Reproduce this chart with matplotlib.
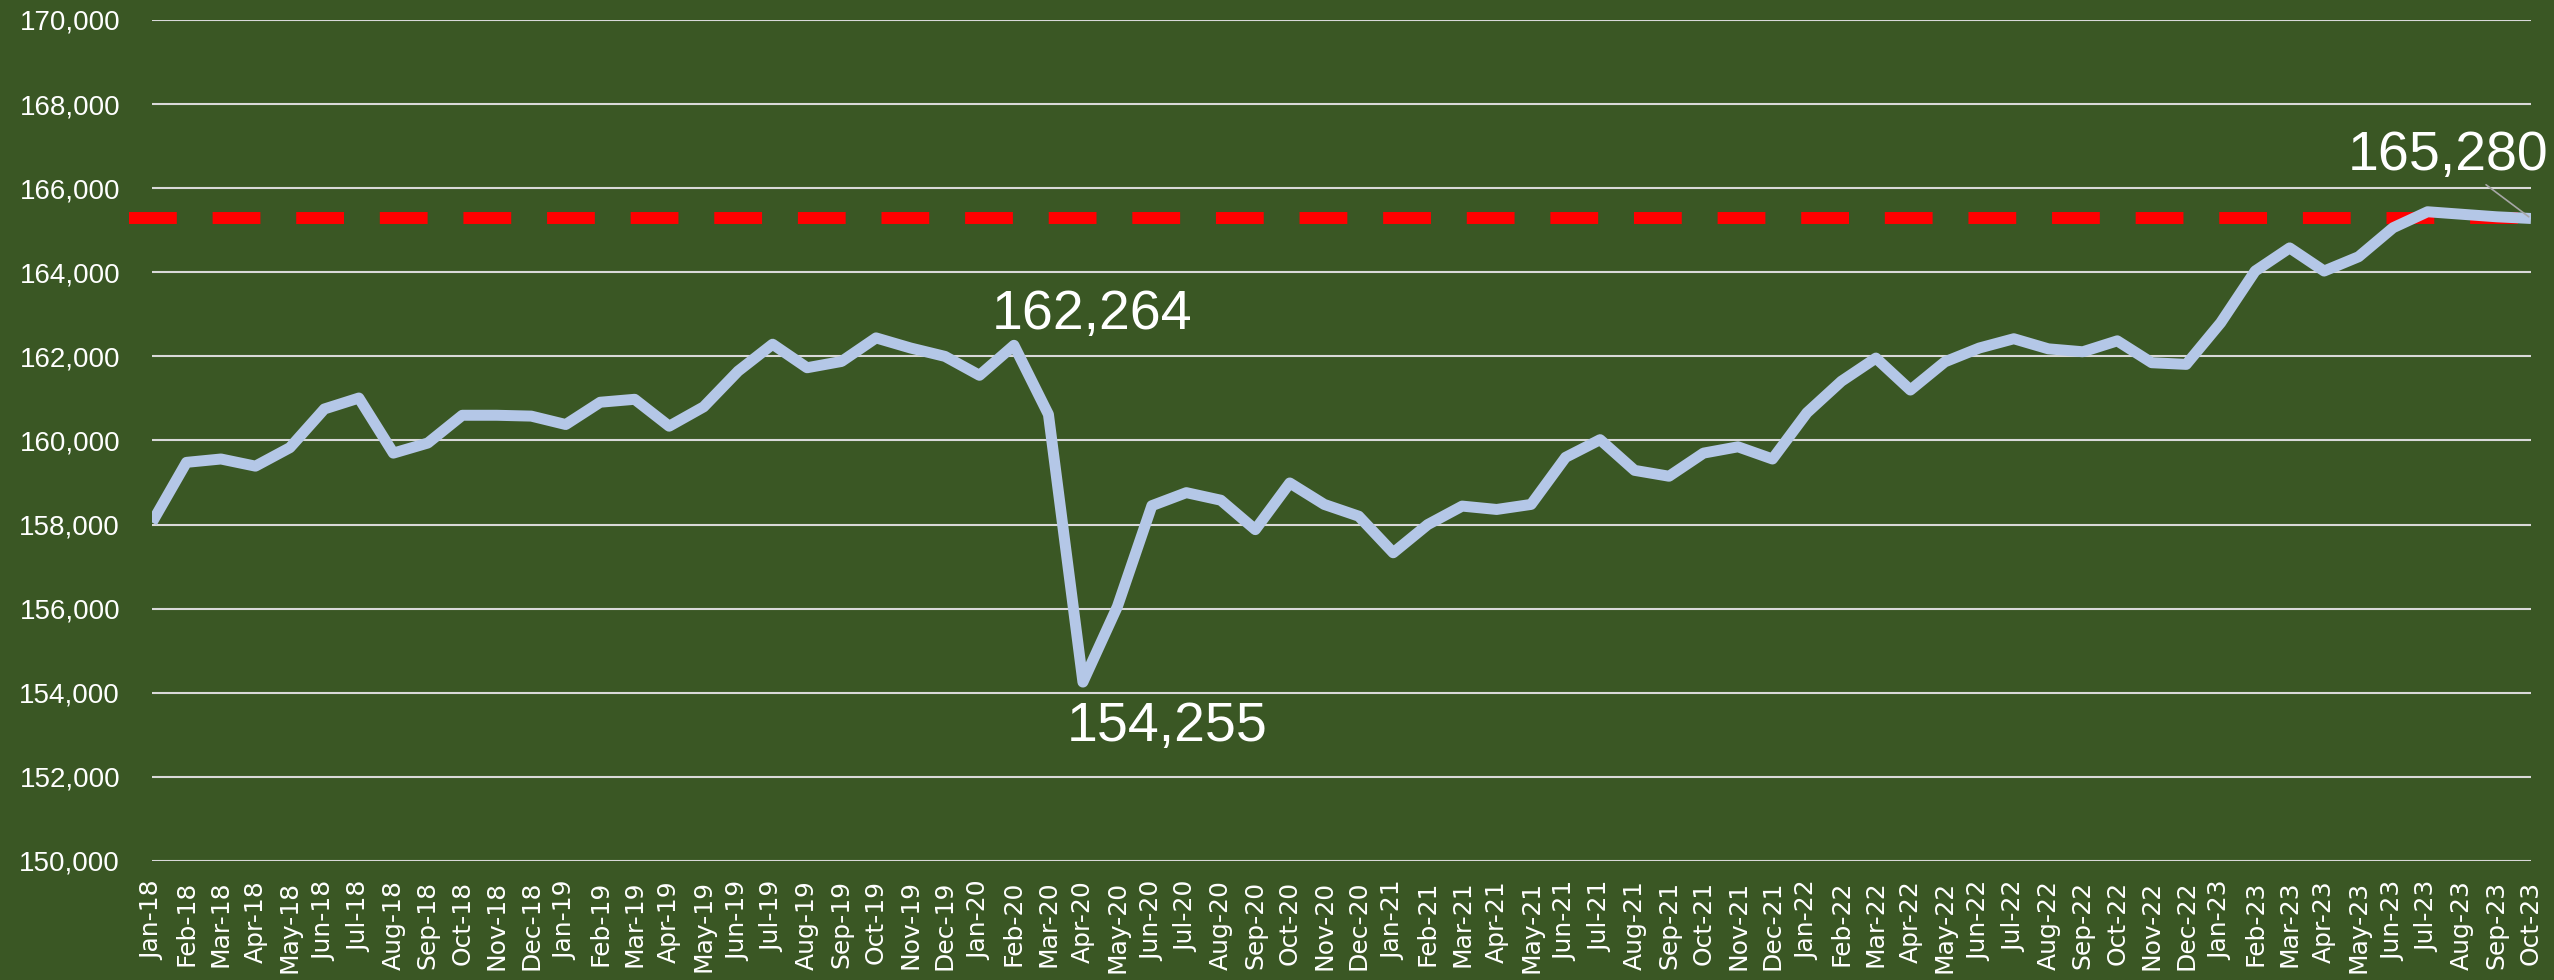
import pandas as pd
import matplotlib
matplotlib.use('Agg')
import matplotlib.pyplot as plt
from matplotlib.ticker import FuncFormatter

MONTHS = pd.date_range('2018-01-01', '2023-10-01', freq='MS').strftime('%b-%y').tolist()

VALUES = [
    158050, 159480, 159560, 159390, 159830, 160750, 161010, 159700, 159940, 160600, 160600, 160580,
    160380, 160910, 160980, 160340, 160800, 161650, 162290, 161730, 161880, 162440, 162200, 162000,
    161550, 162264, 160620, 154255, 156050, 158450, 158760, 158580, 157880, 158990, 158480, 158200,
    157330, 158000, 158440, 158360, 158480, 159600, 160020, 159290, 159150, 159700, 159850, 159560,
    160660, 161410, 161960, 161200, 161870, 162200, 162420, 162180, 162110, 162370, 161850, 161810,
    162800, 164030, 164580, 164030, 164370, 165060, 165440, 165380, 165320, 165280,
]

REFERENCE_LEVEL = 165280
Y_TICKS = list(range(150000, 170001, 2000))

# points to label: (month, text offset in points)
LABELS = {'Feb-20': (56, 22), 'Apr-20': (61, -32), 'Oct-23': (-60, 45)}

BG = '#3A5724'
LINE_COLOR = '#B4C7E7'
LABEL_FONT = ['Liberation Sans', 'DejaVu Sans']


def generate_plot():
    fig = plt.figure(figsize=(25.54, 9.8), dpi=100, facecolor=BG)
    ax = fig.add_axes([152 / 2554, 1 - 861 / 980, (2531 - 152) / 2554, (861 - 20) / 980])
    ax.set_facecolor(BG)

    x = list(range(len(MONTHS)))

    # reference level, sticks out a bit to the left like in the original
    ax.plot([-0.67, len(MONTHS) - 1], [REFERENCE_LEVEL, REFERENCE_LEVEL],
            color='#FF0000', lw=8.6, dashes=(4, 3), solid_capstyle='butt',
            dash_capstyle='butt', clip_on=False, zorder=2)

    ax.plot(x, VALUES, color=LINE_COLOR, lw=7.9, solid_joinstyle='round',
            solid_capstyle='butt', zorder=3)

    for month, offset in LABELS.items():
        i = MONTHS.index(month)
        props = None
        if month == 'Oct-23':
            props = dict(arrowstyle='-', color='#A6A6A6', lw=1.2, shrinkA=0, shrinkB=2)
        ax.annotate(f'{VALUES[i]:,}', xy=(i, VALUES[i]), xytext=offset,
                    textcoords='offset points', ha='center', va='center',
                    fontsize=40, color='white', family=LABEL_FONT,
                    arrowprops=props, zorder=4)

    ax.set_xlim(0, len(MONTHS) - 1)
    ax.set_ylim(150000, 170000)
    ax.set_yticks(Y_TICKS)
    ax.yaxis.set_major_formatter(FuncFormatter(lambda v, p: f'{int(v):,}'))
    ax.set_xticks(x)
    ax.set_xticklabels(MONTHS, rotation=90, fontsize=18, color='white',
                       family='DejaVu Sans')
    for label in ax.get_yticklabels():
        label.set_family(LABEL_FONT)
        label.set_fontsize(20)
        label.set_color('white')

    ax.tick_params(axis='both', length=0)
    ax.tick_params(axis='y', pad=23)
    ax.tick_params(axis='x', pad=14)
    ax.grid(axis='y', color='#D9D9D9', lw=1.5, zorder=1)
    ax.set_axisbelow(True)
    for spine in ax.spines.values():
        spine.set_visible(False)

    fig.savefig('out.png', dpi=100, facecolor=BG)


if __name__ == '__main__':
    generate_plot()
